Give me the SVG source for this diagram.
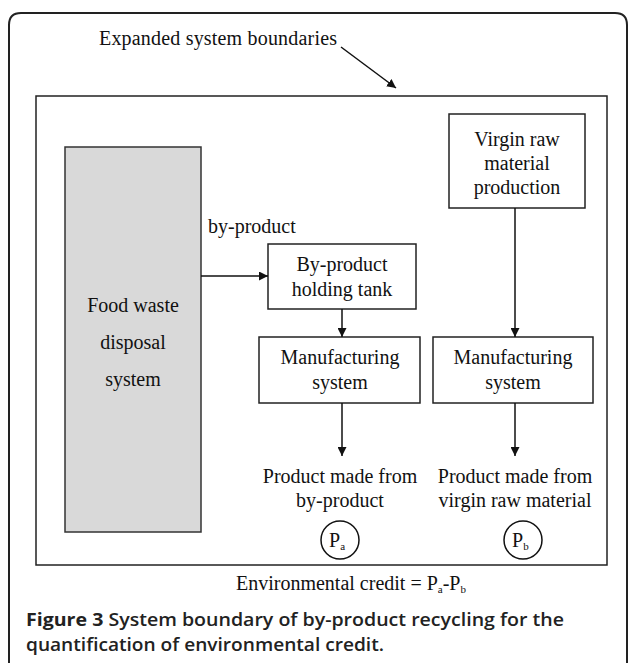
<svg xmlns="http://www.w3.org/2000/svg" width="629" height="663" viewBox="0 0 629 663">
<defs>
<style>
.t{font-family:"Liberation Serif","Times New Roman",serif;font-size:20px;fill:#111;}
.c{text-anchor:middle;}
.box{fill:#fff;stroke:#222;stroke-width:1.5;}
.ln{stroke:#111;stroke-width:1.5;fill:none;}
.cap{font-family:"Open Sans","Noto Sans",sans-serif;font-size:18px;fill:#222;font-weight:600;}
</style>
<marker id="ah" viewBox="0 0 10 10" refX="10" refY="5" markerWidth="9" markerHeight="9" markerUnits="userSpaceOnUse" orient="auto">
<path d="M0,0 L10,5 L0,10 z" fill="#111"/>
</marker>
</defs>
<rect width="629" height="663" fill="#fff"/>
<path d="M9,663 V25 Q9,13 21,13 H615 Q627,13 627,25 V663" fill="none" stroke="#222" stroke-width="2"/>
<text class="t" x="99" y="45" textLength="238">Expanded system boundaries</text>
<g id="boundary"><rect x="36" y="96" width="571" height="469" fill="none" stroke="#222" stroke-width="1.5"/></g>
<g id="food"><rect x="65" y="147" width="136" height="385" fill="#d9d9d9" stroke="#333" stroke-width="1.5"/>
<text class="t c" x="133" y="312" fill="#333">Food waste</text>
<text class="t c" x="133" y="349">disposal</text>
<text class="t c" x="133" y="386">system</text></g>
<g id="virgin"><rect class="box" x="449" y="114" width="136" height="94"/>
<text class="t c" x="517" y="146">Virgin raw</text>
<text class="t c" x="517" y="170">material</text>
<text class="t c" x="517" y="194">production</text></g>
<g id="tank"><rect class="box" x="268" y="244" width="148" height="65"/>
<text class="t c" x="342" y="271">By-product</text>
<text class="t c" x="342" y="296">holding tank</text></g>
<g id="mfgA"><rect class="box" x="259" y="337" width="161" height="66"/>
<text class="t c" x="340" y="364">Manufacturing</text>
<text class="t c" x="340" y="389">system</text></g>
<g id="mfgB"><rect class="box" x="433" y="337" width="160" height="66"/>
<text class="t c" x="513" y="364">Manufacturing</text>
<text class="t c" x="513" y="389">system</text></g>
<g id="prodA"><text class="t c" x="340" y="483">Product made from</text>
<text class="t c" x="340" y="507">by-product</text>
<circle cx="340" cy="540" r="19" fill="none" stroke="#111" stroke-width="1.5"/>
<text class="t" x="329" y="547" font-size="21">P<tspan font-size="11" dy="3">a</tspan></text></g>
<g id="prodB"><text class="t c" x="515" y="483">Product made from</text>
<text class="t c" x="515" y="507">virgin raw material</text>
<circle cx="523" cy="540" r="19" fill="none" stroke="#111" stroke-width="1.5"/>
<text class="t" x="512" y="547" font-size="21">P<tspan font-size="11" dy="3">b</tspan></text></g>
<g id="connectors">
<line class="ln" x1="341" y1="47" x2="396" y2="88" marker-end="url(#ah)"/>
<line class="ln" x1="201" y1="276" x2="268" y2="276" marker-end="url(#ah)"/>
<line class="ln" x1="342" y1="309" x2="342" y2="337" marker-end="url(#ah)"/>
<line class="ln" x1="515" y1="208" x2="515" y2="337" marker-end="url(#ah)"/>
<line class="ln" x1="342" y1="403" x2="342" y2="456" marker-end="url(#ah)"/>
<line class="ln" x1="515" y1="403" x2="515" y2="456" marker-end="url(#ah)"/>
</g>
<text class="t" x="208" y="233">by-product</text>
<text class="t" x="236" y="590">Environmental credit = P<tspan font-size="11" dy="3">a</tspan><tspan dy="-3">-P</tspan><tspan font-size="11" dy="3">b</tspan></text>
<text class="cap" x="26" y="626" textLength="538" lengthAdjust="spacingAndGlyphs"><tspan font-weight="700">Figure 3</tspan> System boundary of by-product recycling for the</text>
<text class="cap" x="26" y="651" textLength="358" lengthAdjust="spacingAndGlyphs">quantification of environmental credit.</text>
</svg>
